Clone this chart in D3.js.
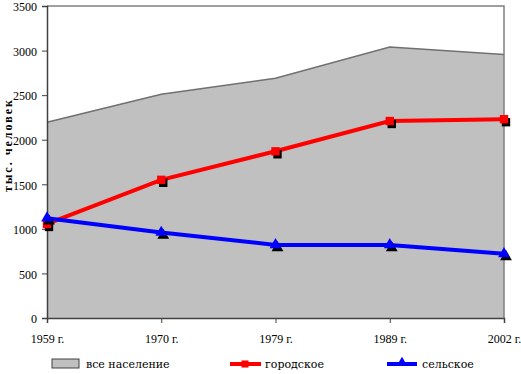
<!DOCTYPE html>
<html>
<head>
<meta charset="utf-8">
<script src="https://cdn.jsdelivr.net/npm/d3@7"></script>
<style>
  body { margin: 0; background: #fff; }
  svg { display: block; }
  .tick text { font-family: "Liberation Serif", "Times New Roman", serif; font-size: 12px; fill: #000; }
</style>
</head>
<body>
<div id="chart"></div>
<script>
// census years
const years = ['1959 г.', '1970 г.', '1979 г.', '1989 г.', '2002 г.'];
// тыс. человек
const total = [2195, 2510, 2690, 3040, 2955];
const urban = [1055, 1550, 1870, 2210, 2230];
const rural = [1120, 960, 820, 820, 720];
const yTicks = [0, 500, 1000, 1500, 2000, 2500, 3000, 3500];

const width = 521;
const height = 374;
const margin = { top: 6, right: 17, bottom: 56, left: 47 };

const svg = d3.select('#chart')
    .append('svg')
    .attr('width', width)
    .attr('height', height);

const x = d3.scalePoint()
    .domain(years)
    .range([margin.left, width - margin.right]);

const y = d3.scaleLinear()
    .domain([0, 3500])
    .range([height - margin.bottom, margin.top]);

// area for all population
const area = d3.area()
    .x((d, i) => x(years[i]))
    .y0(y(0))
    .y1((d) => y(d));
svg.append('path')
    .datum(total)
    .attr('fill', '#c0c0c0')
    .attr('d', area);
svg.append('path')
    .datum(total)
    .attr('fill', 'none')
    .attr('stroke', '#707070')
    .attr('stroke-width', 1.5)
    .attr('d', d3.line().x((d, i) => x(years[i])).y((d) => y(d)));

// frame top / right
svg.append('path')
    .attr('fill', 'none')
    .attr('stroke', '#808080')
    .attr('stroke-width', 1.5)
    .attr('d', `M${x(years[0])},${y(3500)}H${x(years[4])}V${y(0)}`);

// axes
const yAxis = svg.append('g')
    .attr('transform', `translate(${margin.left},0)`)
    .call(d3.axisLeft(y).tickValues(yTicks).tickSize(5).tickPadding(5).tickFormat(d3.format('d')));
yAxis.select('.domain').attr('stroke', '#404040').attr('stroke-width', 1.5);
yAxis.selectAll('.tick line').attr('stroke', '#404040');
yAxis.selectAll('.tick text').attr('dy', '0.4em');

const xAxis = svg.append('g')
    .attr('transform', `translate(0,${y(0)})`)
    .call(d3.axisBottom(x).tickSize(5).tickPadding(11));
xAxis.select('.domain').attr('stroke', '#404040').attr('stroke-width', 1.5);
xAxis.selectAll('.tick line').attr('stroke', '#404040');

svg.append('text')
    .attr('transform', 'translate(12,145) rotate(-90)')
    .attr('text-anchor', 'middle')
    .attr('font-family', '"Liberation Serif", serif')
    .attr('font-size', 12)
    .attr('font-weight', 'bold')
    .attr('letter-spacing', 2)
    .text('тыс. человек');

const line = d3.line()
    .x((d, i) => x(years[i]))
    .y((d) => y(d));

function drawSeries(values, color, shape, size) {
    svg.append('path')
        .datum(values)
        .attr('fill', 'none')
        .attr('stroke', color)
        .attr('stroke-width', 4)
        .attr('d', line);
    const sym = d3.symbol().type(shape).size(size);
    const g = svg.append('g');
    g.selectAll('path.shadow')
        .data(values)
        .join('path')
        .attr('class', 'shadow')
        .attr('transform', (d, i) => `translate(${x(years[i]) + 2},${y(d) + 3})`)
        .attr('fill', '#000')
        .attr('d', sym);
    g.selectAll('path.mark')
        .data(values)
        .join('path')
        .attr('class', 'mark')
        .attr('transform', (d, i) => `translate(${x(years[i])},${y(d)})`)
        .attr('fill', color)
        .attr('d', sym);
}

drawSeries(urban, '#ff0000', d3.symbolSquare, 70);
drawSeries(rural, '#0000ff', d3.symbolTriangle, 60);

// legend
const legend = svg.append('g')
    .attr('font-family', '"DejaVu Serif", serif')
    .attr('font-size', 11);
legend.append('rect')
    .attr('x', 52).attr('y', 359).attr('width', 27).attr('height', 9)
    .attr('fill', '#c0c0c0').attr('stroke', '#404040');
legend.append('text').attr('x', 86).attr('y', 368).text('все население');

legend.append('line')
    .attr('x1', 230).attr('x2', 261).attr('y1', 364).attr('y2', 364)
    .attr('stroke', '#ff0000').attr('stroke-width', 4);
legend.append('path')
    .attr('transform', 'translate(245,364)')
    .attr('fill', '#ff0000')
    .attr('d', d3.symbol().type(d3.symbolSquare).size(50)());
legend.append('text').attr('x', 265).attr('y', 368).text('городское');

legend.append('line')
    .attr('x1', 387).attr('x2', 417).attr('y1', 364).attr('y2', 364)
    .attr('stroke', '#0000ff').attr('stroke-width', 4);
legend.append('path')
    .attr('transform', 'translate(402,363)')
    .attr('fill', '#0000ff')
    .attr('d', d3.symbol().type(d3.symbolTriangle).size(50)());
legend.append('text').attr('x', 422).attr('y', 368).text('сельское');
</script>
</body>
</html>
